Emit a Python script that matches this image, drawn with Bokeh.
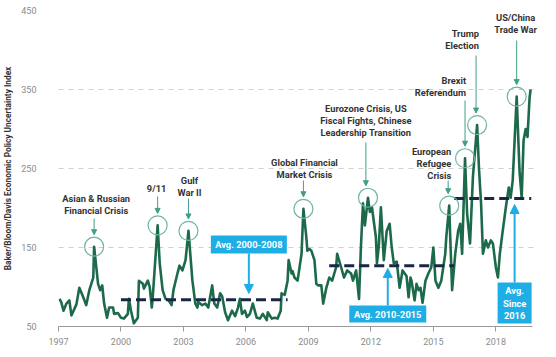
import numpy as np
from bokeh.plotting import figure
from bokeh.models import (FixedTicker, Arrow, NormalHead, Range1d, BasicTickFormatter,
                          LabelSet, ColumnDataSource)
from bokeh.embed import file_html
from bokeh.resources import INLINE
from bokeh.core.properties import value

# ---------------- data ----------------
years = [1997.05, 1997.14, 1997.24, 1997.38, 1997.52, 1997.62, 1997.86, 1998.00, 1998.19, 1998.33,
         1998.48, 1998.67, 1998.71, 1998.90, 1999.00, 1999.10, 1999.19, 1999.33, 1999.43, 1999.62,
         1999.67, 1999.86, 2000.00, 2000.14, 2000.33, 2000.38, 2000.48, 2000.62, 2000.81, 2000.86,
         2001.05, 2001.10, 2001.29, 2001.38, 2001.48, 2001.52, 2001.76, 2001.86, 2002.00, 2002.14,
         2002.29, 2002.43, 2002.52, 2002.71, 2002.81, 2002.95, 2003.10, 2003.24, 2003.43, 2003.57,
         2003.67, 2003.71, 2003.90, 2004.05, 2004.19, 2004.38, 2004.48, 2004.62, 2004.76, 2004.86,
         2005.00, 2005.14, 2005.33, 2005.48, 2005.62, 2005.71, 2005.81, 2005.95, 2006.05, 2006.19,
         2006.33, 2006.52, 2006.67, 2006.81, 2007.00, 2007.05, 2007.24, 2007.38, 2007.52, 2007.67,
         2007.71, 2007.86, 2008.00, 2008.05, 2008.19, 2008.24, 2008.33, 2008.48, 2008.67, 2008.76,
         2008.90, 2008.95, 2009.05, 2009.14, 2009.29, 2009.38, 2009.48, 2009.62, 2009.71, 2009.86,
         2010.00, 2010.14, 2010.33, 2010.38, 2010.57, 2010.71, 2010.86, 2011.05, 2011.14, 2011.29,
         2011.43, 2011.52, 2011.62, 2011.71, 2011.86, 2011.95, 2012.05, 2012.24, 2012.29, 2012.38,
         2012.48, 2012.62, 2012.76, 2012.90, 2013.00, 2013.10, 2013.24, 2013.38, 2013.52, 2013.71,
         2013.81, 2013.90, 2013.95, 2014.10, 2014.19, 2014.29, 2014.38, 2014.48, 2014.62, 2014.76,
         2014.90, 2015.00, 2015.10, 2015.24, 2015.38, 2015.57, 2015.62, 2015.76, 2015.81, 2015.90,
         2016.05, 2016.19, 2016.29, 2016.38, 2016.52, 2016.62, 2016.76, 2016.90, 2017.10, 2017.19,
         2017.29, 2017.38, 2017.52, 2017.62, 2017.76, 2017.86, 2018.00, 2018.10, 2018.19, 2018.33,
         2018.48, 2018.62, 2018.71, 2018.81, 2019.00, 2019.14, 2019.24, 2019.33, 2019.43, 2019.52,
         2019.62, 2019.67]
epu = [85, 80, 70, 79, 83, 64, 78, 99, 87, 77,
       96, 112, 151, 104, 96, 102, 79, 61, 74, 74,
       66, 67, 61, 60, 66, 85, 70, 54, 61, 108,
       104, 98, 108, 100, 74, 85, 178, 130, 96, 85,
       83, 77, 96, 117, 127, 121, 134, 171, 108, 79,
       74, 81, 77, 79, 74, 102, 79, 74, 92, 88,
       68, 58, 70, 63, 74, 85, 66, 70, 62, 66,
       79, 61, 60, 66, 58, 68, 60, 61, 60, 70,
       92, 90, 108, 134, 117, 120, 112, 108, 142, 199,
       163, 146, 148, 146, 134, 104, 102, 102, 79, 99,
       112, 108, 125, 142, 125, 112, 121, 117, 108, 121,
       85, 150, 206, 178, 213, 195, 201, 163, 130, 152,
       201, 134, 171, 180, 150, 130, 132, 99, 121, 114,
       87, 112, 108, 83, 104, 96, 99, 80, 108, 117,
       125, 150, 108, 99, 108, 142, 163, 203, 163, 96,
       142, 171, 180, 142, 263, 193, 155, 240, 305, 250,
       206, 142, 159, 150, 159, 155, 125, 112, 142, 171,
       201, 226, 213, 235, 341, 245, 213, 285, 300, 290,
       340, 350]

avg_labels = ["Avg. 2000-2008", "Avg. 2010-2015", "Avg. Since 2016"]
avg_start = [2000.0, 2010.0, 2016.0]
avg_end = [2008.0, 2016.0, 2019.7]
avg_value = [84, 127, 212]

event_labels = ["Asian & Russian\nFinancial Crisis", "9/11", "Gulf\nWar II",
                "Global Financial\nMarket Crisis",
                "Eurozone Crisis, US\nFiscal Fights, Chinese\nLeadership Transition",
                "European\nRefugee\nCrisis", "Brexit\nReferendum", "Trump\nElection",
                "US/China\nTrade War"]
event_years = [1998.71, 2001.76, 2003.24, 2008.76, 2011.86, 2015.76, 2016.52, 2017.10, 2019.00]

x_ticks = [1997, 2000, 2003, 2006, 2009, 2012, 2015, 2018]
y_ticks = [50, 150, 250, 350, 450]
y_title = "Baker/Bloom/Davis Economic Policy Uncertainty Index"

# ---------------- styles ----------------
GREEN = "#1d6a4b"
NAVY = "#1a2744"
BLUE = "#1eade4"
TEAL = "#3f9f88"
TEAL_C = "#6fb5a3"
TXT = "#333333"
GRAY = "#8a8a8a"
FONT = "Roboto"

W, H = 540, 349
TOP, BOT, LEFT, RIGHT = 10, 23, 54, 2
PX_PER_YEAR = 21.0
x_end = 1997 + (W - LEFT - RIGHT) / PX_PER_YEAR
p = figure(width=W, height=H, output_backend="svg", toolbar_location=None,
           x_range=Range1d(1997, x_end), y_range=Range1d(50, 450),
           min_border_left=LEFT, min_border_right=RIGHT, min_border_top=TOP,
           min_border_bottom=BOT)
p.outline_line_color = None
p.background_fill_color = "white"

# axes
p.xaxis.ticker = FixedTicker(ticks=x_ticks)
p.xaxis.bounds = (1997, 2019.76)
p.xaxis.formatter = BasicTickFormatter(use_scientific=False)
p.xaxis.axis_line_color = "#9a9a9a"
p.xaxis.major_tick_line_color = "#9a9a9a"
p.xaxis.major_tick_out = 5
p.xaxis.major_tick_in = 0
p.xaxis.minor_tick_line_color = None
p.xaxis.major_label_text_color = GRAY
p.xaxis.major_label_text_font = FONT
p.xaxis.major_label_text_font_size = "9px"
p.xaxis.major_label_standoff = 6

p.yaxis.ticker = FixedTicker(ticks=y_ticks)
p.yaxis.axis_line_color = None
p.yaxis.major_tick_line_color = None
p.yaxis.minor_tick_line_color = None
p.yaxis.major_tick_out = 0
p.yaxis.major_label_text_color = GRAY
p.yaxis.major_label_text_font = FONT
p.yaxis.major_label_text_font_size = "9px"
p.yaxis.major_label_standoff = 22
p.yaxis.axis_label = y_title
p.yaxis.axis_label_text_font = FONT
p.yaxis.axis_label_text_font_style = "bold"
p.yaxis.axis_label_text_font_size = "8.3px"
p.yaxis.axis_label_text_color = TXT
p.yaxis.axis_label_standoff = 5

p.xgrid.grid_line_color = None
p.ygrid.ticker = FixedTicker(ticks=y_ticks[1:])
p.ygrid.grid_line_color = "#cfcfcf"
p.ygrid.grid_line_dash = "5 5"
p.ygrid.grid_line_width = 1

# main series
p.line(years, epu, line_color=GREEN, line_width=2.6, line_join="round")

# average dashed lines
p.segment(x0=avg_start, y0=avg_value, x1=avg_end, y1=avg_value,
          line_color=NAVY, line_width=3, line_dash="10 5")

# pixel-to-data helper for vertical offsets
k = (H - TOP - BOT) / 400.0  # px per unit


def dy(px):
    return px / k


# ---------- event annotations ----------
yrs = np.array(years)
vals = np.array(epu)
peak_x, peak_y = [], []
for ey in event_years:
    idx = np.where(np.abs(yrs - ey) <= 0.12)[0]
    j = idx[np.argmax(vals[idx])]
    peak_x.append(yrs[j])
    peak_y.append(vals[j])

p.scatter(peak_x, peak_y, size=19, marker="circle", fill_color=None,
          line_color=TEAL_C, line_width=1.2)

# layout: (text x, top line y in data units, align, arrow start y, arrow x)
event_layout = [
    (1998.81, 212.0, "center", 186.7, None),
    (2001.71, 224.7, "center", 214.6, None),
    (2003.29, 234.8, "center", 212.0, None),
    (2008.81, 257.6, "center", 234.8, None),
    (2011.76, 325.9, "center", 282.9, 2011.76),
    (2015.86, 271.5, "right", 234.8, 2015.71),
    (2016.57, 361.4, "right", 336.1, None),
    (2017.19, 420.9, "right", 393.0, 2017.05),
    (2018.95, 441.1, "center", 412.0, None),
]
groups = {"center": dict(x=[], y=[], t=[]), "right": dict(x=[], y=[], t=[])}
for lab, (x, y0, al, ys, ax), px_, py_ in zip(event_labels, event_layout, peak_x, peak_y):
    for i, line in enumerate(lab.split("\n")):
        groups[al]["x"].append(x)
        groups[al]["y"].append(y0 - dy(12 * i))
        groups[al]["t"].append(line)
    axx = ax if ax is not None else px_
    p.add_layout(Arrow(end=NormalHead(size=5, fill_color=TEAL, line_color=TEAL, line_width=1),
                       x_start=axx, y_start=ys, x_end=axx, y_end=py_ + dy(12),
                       line_color=TEAL, line_width=1))
for al, g in groups.items():
    src = ColumnDataSource(dict(x=g["x"], y=g["y"], t=g["t"]))
    p.add_layout(LabelSet(x="x", y="y", text="t", source=src, text_align=al,
                          text_baseline="middle", text_font=value(FONT),
                          text_font_style="bold", text_font_size="9.3px", text_color=TXT))

# ---------- average boxes ----------
# (box x, box y, w px, h px, arrow from y, arrow to y)
box_layout = [
    (2006.14, 153.8, 76, 18, 142.4, 91.8),
    (2012.81, 65.8, 77, 17, 76.6, 123.4),
    (2018.90, 79.7, 34, 41, 105.7, 204.4),
]
bx = [b[0] for b in box_layout]
by = [b[1] for b in box_layout]
bw = [b[2] for b in box_layout]
bh = [b[3] for b in box_layout]
for (x, y, w, h, y0, y1) in box_layout:
    p.add_layout(Arrow(end=NormalHead(size=9, fill_color=BLUE, line_color=BLUE, line_width=1),
                       x_start=x, y_start=y0, x_end=x, y_end=y1,
                       line_color=BLUE, line_width=2))
p.rect(x=bx, y=by, width=bw, height=bh, width_units="screen", height_units="screen",
       fill_color=BLUE, line_color=None)

btx, bty, btt = [], [], []
for lab, (x, y, w, h, y0, y1) in zip(avg_labels, box_layout):
    lines = [lab] if w > 50 else lab.replace(". ", ".\n").replace(" ", "\n").split("\n")
    n = len(lines)
    for i, line in enumerate(lines):
        btx.append(x)
        bty.append(y + dy(12.5 * ((n - 1) / 2 - i)))
        btt.append(line)
p.text(x=btx, y=bty, text=btt, text_align="center", text_baseline="middle",
       text_font=value(FONT), text_font_style="bold", text_font_size="9.3px",
       text_color="white")

open("out.html", "w").write(file_html(p, INLINE))
